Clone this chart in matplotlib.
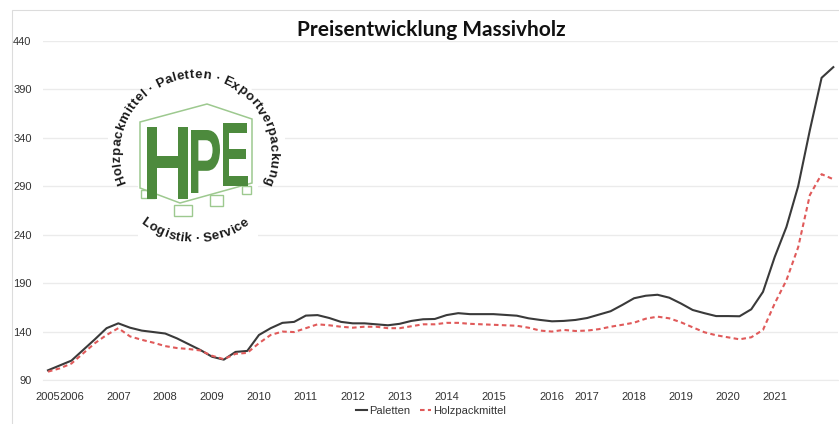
"""Preisentwicklung Massivholz: price index for pallets vs. wooden packaging."""

import numpy as np
import matplotlib

matplotlib.use("Agg")
import matplotlib.pyplot as plt
from matplotlib import font_manager
from matplotlib.font_manager import FontProperties
from matplotlib.patches import PathPatch, Polygon, Rectangle
from matplotlib.textpath import TextPath, text_to_path
from matplotlib.transforms import Affine2D

W, H = 839, 424

PALETTEN = [
    100, 105, 110, 121, 132, 143.5, 148.5, 144, 141, 139.5,
    138, 133, 127, 121, 114, 111, 119, 120, 136.5, 143.5,
    149, 150, 156.5, 157, 154, 150, 148.5, 148.5, 147.5, 146.5,
    148, 151, 152.7, 153, 157, 159, 158, 158, 158, 157.2,
    156.4, 153.7, 152, 150.6, 151, 152, 154, 157.5, 161, 167.5,
    174.4, 177, 178, 175, 169, 162.3, 159, 156, 156, 155.8,
    163, 181, 217, 248, 290, 348, 402, 413,
]
HOLZPACKMITTEL = [
    98.6, 102, 107, 117.5, 128, 136.5, 143.5, 135, 131.5, 128.5,
    125, 123, 122, 120.5, 115, 111.5, 117, 118, 128, 136.5,
    140, 139.5, 143.5, 147.5, 146.5, 145, 144, 145, 145, 143.5,
    143.5, 145.5, 147.5, 147.5, 149, 149, 148, 147.5, 147, 146.5,
    146, 144, 141, 140, 141.7, 140.6, 141, 142.5, 145, 147,
    149.2, 153.3, 155.4, 153.7, 149.6, 144.4, 139.3, 136.2, 134.1, 132,
    134.1, 141.7, 169, 193, 227, 281, 302.5, 297.3,
]
TICK_POS = [0, 2, 6, 10, 14, 18, 22, 26, 30, 34, 38, 43, 46, 50, 54, 58, 62]
TICK_LABELS = [
    "2005", "2006", "2007", "2008", "2009", "2010", "2011", "2012", "2013",
    "2014", "2015", "2016", "2017", "2018", "2019", "2020", "2021",
]
Y_TICKS = [90, 140, 190, 240, 290, 340, 390, 440]

LOGO_TOP = "Holzpackmittel · Paletten · Exportverpackung"
LOGO_BOTTOM = "Logistik · Service"

GREEN = "#4d8a3d"
LIGHT_GREEN = "#9dc98f"


def _pick_font(*names):
    installed = {f.name for f in font_manager.fontManager.ttflist}
    for name in names:
        if name in installed:
            return name
    return "DejaVu Sans"


def _px(fig):
    # image pixel coords (origin top-left) -> figure coords
    return Affine2D().scale(1 / W, -1 / H).translate(0, 1) + fig.transFigure


def _arc_text(fig, text, cx, cy, r, center_deg, direction, prop, span_deg):
    # letters are spread so the whole string fills span_deg of the circle
    size_px = prop.get_size_in_points() * fig.dpi / 72
    widths = []
    for ch in text:
        if ch == " ":
            widths.append(0.22 * size_px)
        else:
            w = text_to_path.get_text_width_height_descent(ch, prop, ismath=False)[0]
            widths.append(w * fig.dpi / 72)
    track = (np.deg2rad(span_deg) * r - sum(widths)) / len(text)
    widths = [w + track for w in widths]
    s = -sum(widths) / 2
    for ch, w in zip(text, widths):
        mid = s + w / 2
        s += w
        a = np.deg2rad(center_deg) + direction * mid / r
        x = cx + r * np.cos(a)
        y = cy - r * np.sin(a)
        rot = np.rad2deg(a) - 90 if direction < 0 else np.rad2deg(a) + 90
        fig.text(x / W, 1 - y / H, ch, rotation=rot, ha="center", va="center",
                 rotation_mode="anchor", fontproperties=prop, color="#1a1a1a",
                 zorder=7)


def _letter(fig, ch, left, top, right, bottom, prop):
    path = TextPath((0, 0), ch, size=1, prop=prop)
    bb = path.get_extents()
    tr = (Affine2D()
          .translate(-bb.x0, -bb.y0)
          .scale((right - left) / bb.width, -(bottom - top) / bb.height)
          .translate(left, bottom))
    fig.add_artist(PathPatch(path, transform=tr + _px(fig), facecolor=GREEN,
                             edgecolor="none", zorder=6))


def _draw_logo(fig, logo_font):
    px = _px(fig)
    cx, cy = 195, 153
    backdrop = [
        (150, 62), (250, 62), (252, 95), (285, 120), (285, 175), (258, 186),
        (258, 244), (138, 244), (138, 186), (108, 175), (108, 120), (148, 95),
    ]
    fig.add_artist(Polygon(backdrop, closed=True, transform=px, facecolor="white",
                           edgecolor="none", zorder=4))

    outline = [
        (140, 122), (207, 104), (252, 119), (252, 183),
        (180, 203), (140, 188),
    ]
    fig.add_artist(Polygon(outline, closed=True, transform=px, fill=False,
                           edgecolor=LIGHT_GREEN, lw=1.1, zorder=5))
    for x0, y0, x1, y1 in [(141, 190, 155, 198), (174, 205, 192, 216),
                           (210, 195, 223, 206), (242, 186, 251, 194)]:
        fig.add_artist(Polygon([(x0, y0), (x1, y0), (x1, y1), (x0, y1)],
                               closed=True, transform=px, fill=False,
                               edgecolor=LIGHT_GREEN, lw=1.0, zorder=5))

    letter_prop = FontProperties(family=logo_font, weight="bold")
    _letter(fig, "H", 147, 127, 188, 199, letter_prop)
    _letter(fig, "P", 191, 130, 220, 193, letter_prop)
    _letter(fig, "E", 223, 123, 248, 186, letter_prop)

    arc_prop = FontProperties(family=logo_font, weight="bold", size=9.5)
    _arc_text(fig, LOGO_TOP, cx, cy, 78, 90, -1, arc_prop, 228)
    _arc_text(fig, LOGO_BOTTOM, cx, cy, 86, 270, 1, arc_prop, 76)


def main():
    tick_font = _pick_font("Liberation Sans Narrow", "Liberation Sans")
    title_font = _pick_font("Lato", "Open Sans")
    logo_font = _pick_font("Liberation Sans", "DejaVu Sans")

    fig = plt.figure(figsize=(W / 100, H / 100), dpi=100)
    left, right, top, bottom = 42.7, 838, 41, 380
    ax = fig.add_axes([left / W, 1 - bottom / H, (right - left) / W, (bottom - top) / H])

    x = np.arange(len(PALETTEN))
    ax.plot(x, PALETTEN, color="#3a3a3a", lw=1.5, label="Paletten",
            solid_joinstyle="round", zorder=3)
    ax.plot(x, HOLZPACKMITTEL, color="#e05a5a", lw=1.5, dashes=(2.2, 1.6),
            label="Holzpackmittel", zorder=3)

    ax.set_xlim(-0.45, 67.4)
    ax.set_ylim(90, 440)
    ax.set_yticks(Y_TICKS)
    ax.set_xticks(TICK_POS)
    ax.set_xticklabels(TICK_LABELS)
    ax.yaxis.grid(True, color="#ebebeb", lw=1.0)
    ax.set_axisbelow(True)
    for side in ("top", "right", "left"):
        ax.spines[side].set_visible(False)
    ax.spines["bottom"].set_color("#ebebeb")
    ax.tick_params(axis="both", length=0, labelcolor="#333333")
    ax.tick_params(axis="x", pad=9)
    ax.tick_params(axis="y", pad=8)
    for lab in ax.get_xticklabels() + ax.get_yticklabels():
        lab.set_fontfamily(tick_font)
        lab.set_fontsize(8)

    fig.text(431 / W, 1 - 30 / H, "Preisentwicklung Massivholz", ha="center",
             va="center", fontsize=15, fontweight="bold", family=title_font,
             color="#111111")

    fig.legend(loc="center", bbox_to_anchor=(431 / W, 1 - 411 / H), ncol=2,
               frameon=False, prop=FontProperties(family=tick_font, size=8),
               handlelength=1.0, handletextpad=0.2, columnspacing=0.8,
               labelcolor="#333333")

    fig.add_artist(Rectangle((12 / W, -0.1), 2, 1.1 - 10 / H, transform=fig.transFigure,
                             fill=False, edgecolor="#dcdcdc", lw=0.8))

    _draw_logo(fig, logo_font)

    fig.savefig("out.png", dpi=100)
    plt.close(fig)


if __name__ == "__main__":
    main()
